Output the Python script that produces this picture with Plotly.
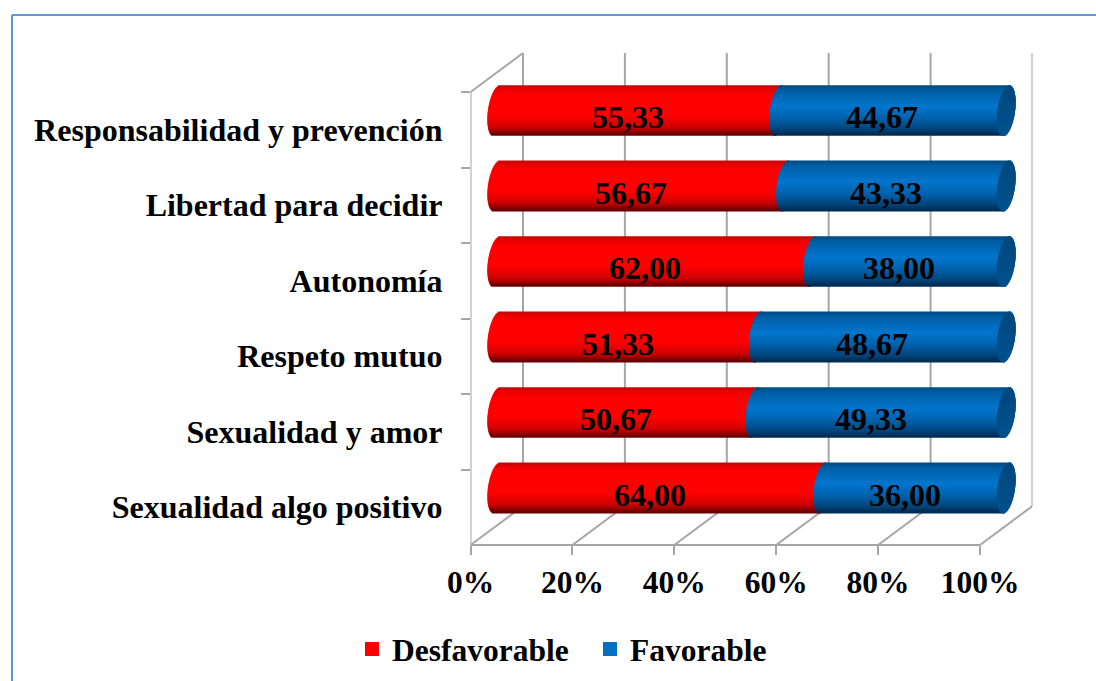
import math
import plotly.graph_objects as go

categories = ["Sexualidad algo positivo", "Sexualidad y amor", "Respeto mutuo",
              "Autonomía", "Libertad para decidir", "Responsabilidad y prevención"]
desfavorable = [64.00, 50.67, 51.33, 62.00, 56.67, 55.33]
favorable = [36.00, 49.33, 48.67, 38.00, 43.33, 44.67]
x_ticks = [0, 20, 40, 60, 80, 100]
x_tick_labels = ["0%", "20%", "40%", "60%", "80%", "100%"]

W, H = 1096, 681
FONT = "Liberation Serif"
GRID = "#a6a6a6"
RED, BLUE = "#ff0000", "#0070c0"

# frame geometry in pixels
FX0, FX100, FYB, FYT = 470.5, 980.0, 545.0, 92.0
DX, DY = 52.5, 39.0
PX = (FX100 - FX0) / 100
x_max = 100 * (FX100 + DX - FX0) / (FX100 - FX0)
band = (FYB - FYT) / 6
bar_h = 50 / band
yfrac_back = DY / (FYB - FYT + DY)
yfrac_ftop = (FYB - FYT) / (FYB - FYT + DY)
PAD = 5  # extra value units either side of the bar axis, room for the rounded ends


def dom(p0, p1, size):
    return [p0 / size, p1 / size]


def mix(stops, u):
    for (a, ca), (b, cb) in zip(stops, stops[1:]):
        if u <= b:
            k = (u - a) / (b - a)
            return "rgb(%d,%d,%d)" % tuple(ca[i] + (cb[i] - ca[i]) * k for i in range(3))
    return "rgb(%d,%d,%d)" % stops[-1][1]


red_stops = [(0, (190, 10, 10)), (0.07, (235, 0, 0)), (0.2, (255, 0, 0)), (0.62, (255, 0, 0)),
             (0.85, (205, 0, 0)), (1, (105, 0, 0))]
blue_stops = [(0, (0, 75, 130)), (0.1, (0, 95, 165)), (0.42, (0, 118, 205)), (0.65, (0, 100, 175)),
              (0.88, (0, 70, 125)), (1, (0, 45, 85))]
cap_stops = [(0, (0, 72, 125)), (1, (0, 82, 142))]

fig = go.Figure()
# invisible trace that gives the frame axis its categories
fig.add_trace(go.Scatter(x=[0] * 6, y=categories, mode="markers", marker=dict(opacity=0),
                         showlegend=False, hoverinfo="skip", xaxis="x", yaxis="y"))

N = 50
R = 8.8 / PX
SKEW = 3.2 / PX
step = bar_h / N
tops = [bar_h / 2 - i * step for i in range(N)]


def strip(base, length, color, top, last):
    w = step if last else step * 1.5
    fig.add_trace(go.Bar(y=categories, x=length, base=base, orientation="h", width=w, offset=top - w,
                         marker=dict(color=color, line=dict(width=0)),
                         showlegend=False, hoverinfo="skip", xaxis="x2", yaxis="y2"))


for group in ("red", "blue", "cap"):
    for i, top in enumerate(tops):
        t = (top - step / 2) / (bar_h / 2)
        s = math.sqrt(max(0, 1 - t * t))
        sk = SKEW * t
        u = i / (N - 1)
        if group == "red":
            b = [sk - R * s] * 6
            ln = [v + R * s + R * 0.1 for v in desfavorable]
            strip(b, ln, mix(red_stops, u), top, i == N - 1)
        elif group == "blue":
            b = [v + sk - R * s for v in desfavorable]
            strip(b, [f + R * s * 2 for f in favorable], mix(blue_stops, u), top, i == N - 1)
        else:
            tot = [d + f for d, f in zip(desfavorable, favorable)]
            b = [v + sk - R * s for v in tot]
            strip(b, [2 * R * s] * 6, mix(cap_stops, u), top, i == N - 1)

# legend entries
fig.add_trace(go.Scatter(x=[None], y=[None], mode="markers", name="Desfavorable",
                         marker=dict(symbol="square", size=14, color=RED), xaxis="x", yaxis="y"))
fig.add_trace(go.Scatter(x=[None], y=[None], mode="markers", name="Favorable",
                         marker=dict(symbol="square", size=14, color=BLUE), xaxis="x", yaxis="y"))

shapes = []


def line(x0, y0, x1, y1):
    shapes.append(dict(type="line", xref="x", yref="y domain", x0=x0, y0=y0, x1=x1, y1=y1,
                       line=dict(color=GRID, width=2), layer="below"))


dxv = DX / PX
line(0, 0, 0, yfrac_ftop)
line(0, yfrac_ftop, dxv, 1)
line(0, 0, 100, 0)
for v in x_ticks:
    line(v, 0, v + dxv, yfrac_back)
    line(v + dxv, yfrac_back, v + dxv, 1)

# page border
bl = "#5b9bd5"
shapes.append(dict(type="line", xref="paper", yref="paper", x0=12 / W, x1=12 / W, y0=0, y1=1 - 15 / H,
                   line=dict(color=bl, width=2)))
shapes.append(dict(type="line", xref="paper", yref="paper", x0=12 / W, x1=1, y0=1 - 15 / H, y1=1 - 15 / H,
                   line=dict(color=bl, width=2)))

annotations = []
fmt = lambda v: f"{v:.2f}".replace(".", ",")
label_font = dict(family=FONT, size=32, color="black", weight="bold")
for cat, d, f in zip(categories, desfavorable, favorable):
    annotations.append(dict(x=d / 2, y=cat, xref="x2", yref="y2", text=fmt(d), showarrow=False,
                            xshift=-10, yshift=-7, font=label_font))
    annotations.append(dict(x=d + f / 2, y=cat, xref="x2", yref="y2", text=fmt(f), showarrow=False,
                            xshift=-10, yshift=-7, font=label_font))

x_tick_font = dict(family=FONT, size=31.5, color="black", weight="bold")
y_tick_font = dict(family=FONT, size=32, color="black", weight="bold")

fig.update_layout(
    width=W, height=H, autosize=False,
    margin=dict(l=0, r=0, t=0, b=0, autoexpand=False),
    paper_bgcolor="white", plot_bgcolor="rgba(0,0,0,0)",
    barmode="overlay",
    xaxis=dict(domain=dom(FX0, FX100 + DX, W), range=[0, x_max], tickmode="array", tickvals=x_ticks,
               ticktext=x_tick_labels, ticks="outside", ticklen=9, tickwidth=2, tickcolor=GRID,
               showgrid=False, zeroline=False, showline=False, tickfont=x_tick_font, anchor="y",
               tickangle=0),
    yaxis=dict(domain=[(H - FYB) / H, (H - FYT + DY) / H], type="category", categoryorder="array",
               categoryarray=categories, range=[-0.5, 5.5 + DY / band], tickson="boundaries",
               ticks="outside", ticklen=9, tickwidth=2, tickcolor=GRID, showgrid=False, zeroline=False,
               showline=False, tickfont=y_tick_font, anchor="x", ticklabelstandoff=27),
    xaxis2=dict(domain=dom(FX0 + DX / 2 - PAD * PX, FX100 + DX / 2 + PAD * PX, W),
                range=[-PAD, 100 + PAD], visible=False, anchor="y2"),
    yaxis2=dict(domain=[(H - FYB + DY / 2) / H, (H - FYT + DY / 2) / H], type="category",
                categoryorder="array", categoryarray=categories, range=[-0.5, 5.5], visible=False,
                anchor="x2"),
    shapes=shapes,
    annotations=annotations,
    legend=dict(orientation="h", x=352 / W, xanchor="left", y=1 - 649 / H, yanchor="middle",
                font=dict(family=FONT, size=31.5, color="black", weight="bold"),
                entrywidth=193, entrywidthmode="pixels",
                bgcolor="rgba(0,0,0,0)", itemclick=False),
    showlegend=True,
)

fig.write_html("out.html", config=dict(displayModeBar=False),
               post_script="document.body.style.margin='0';document.body.style.overflow='hidden';")
